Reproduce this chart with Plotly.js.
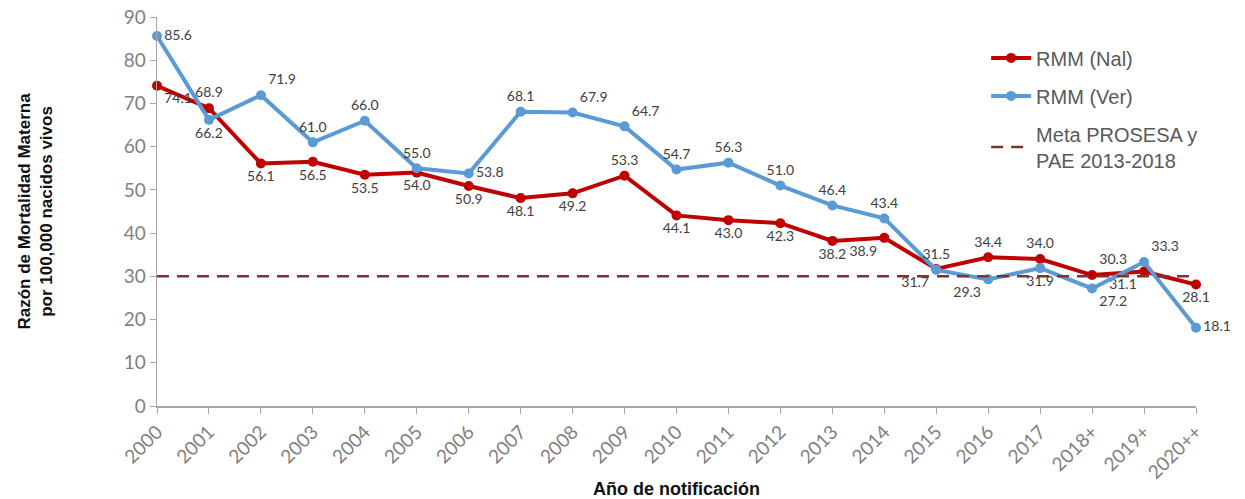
<!DOCTYPE html>
<html>
<head>
<meta charset="utf-8">
<script src="https://cdn.plot.ly/plotly-3.0.1.min.js"></script>
<style>html,body{margin:0;padding:0;background:#fff;}#chart{width:1245px;height:499px;}</style>
</head>
<body>
<div id="chart"></div>
<script>
const years = ["2000","2001","2002","2003","2004","2005","2006","2007","2008","2009","2010","2011","2012","2013","2014","2015","2016","2017","2018+","2019+","2020++"];
const rmmNal = [74.1,68.9,56.1,56.5,53.5,54.0,50.9,48.1,49.2,53.3,44.1,43.0,42.3,38.2,38.9,31.7,34.4,34.0,30.3,31.1,28.1];
const rmmVer = [85.6,66.2,71.9,61.0,66.0,55.0,53.8,68.1,67.9,64.7,54.7,56.3,51.0,46.4,43.4,31.5,29.3,31.9,27.2,33.3,18.1];
const meta = [30,30,30,30,30,30,30,30,30,30,30,30,30,30,30,30,30,30,30,30,30];

const nalPos = ["bottom right","top center","bottom center","bottom center","bottom center","bottom center","bottom center","bottom center","bottom center","top center","bottom center","bottom center","bottom center","bottom center","bottom left","bottom left","top center","top center","top right","bottom left","bottom center"];
const verPos = ["middle right","bottom center","top right","top center","top center","top center","middle right","top center","top right","top right","top center","top center","top center","top center","top center","top center","bottom left","bottom center","bottom right","top right","middle right"];

const labelFont = {family:"Lato, 'Open Sans', sans-serif", size:14, color:"#404040"};

const traces = [
  {x:years, y:rmmNal, name:"RMM (Nal)", legendgroup:"a", type:"scatter", mode:"lines+markers+text",
   line:{color:"#C00000", width:4}, marker:{color:"#C00000", size:10},
   text:rmmNal.map(v=>v.toFixed(1)), textposition:nalPos, textfont:labelFont, cliponaxis:false},
  {x:years, y:rmmVer, name:"RMM (Ver)", legendgroup:"b", type:"scatter", mode:"lines+markers+text",
   line:{color:"#5B9BD5", width:4}, marker:{color:"#5B9BD5", size:10},
   text:rmmVer.map(v=>v.toFixed(1)), textposition:verPos, textfont:labelFont, cliponaxis:false},
  {x:years, y:meta, name:"Meta PROSESA y<br>PAE 2013-2018", legendgroup:"c", type:"scatter", mode:"lines",
   line:{color:"#7B3434", width:2.5, dash:"12px,8px"}, hoverinfo:"skip"}
];

const tickFont = {family:"Lato, 'Open Sans', sans-serif", size:19, color:"#808080"};

const layout = {
  width:1245, height:499,
  margin:{l:157, r:49, t:17, b:93},
  paper_bgcolor:"#fff", plot_bgcolor:"#fff",
  showlegend:true,
  legend:{x:0.798, y:0.945, xanchor:"left", yanchor:"top", bgcolor:"rgba(0,0,0,0)",
          font:{family:"'Liberation Sans', Arial, sans-serif", size:20, color:"#595959"},
          tracegroupgap:9, itemwidth:40},
  xaxis:{type:"category", range:[0,20], showgrid:false, zeroline:false,
         showline:true, linecolor:"#A6A6A6", linewidth:1.5,
         ticks:"outside", ticklen:6, tickcolor:"#A6A6A6", tickangle:-45,
         tickfont:tickFont, automargin:false,
         title:{text:"Año de notificación", standoff:6,
                font:{family:"'Liberation Sans', Arial, sans-serif", size:18, color:"#111", weight:"bold"}}},
  yaxis:{range:[0,90], dtick:10, showgrid:false, zeroline:false,
         showline:true, linecolor:"#A6A6A6", linewidth:1.5,
         ticks:"outside", ticklen:6, tickcolor:"#A6A6A6",
         tickfont:tickFont, automargin:false,
         title:{text:"Razón de Mortalidad Materna<br>por 100,000 nacidos vivos", standoff:66,
                font:{family:"'Liberation Sans', Arial, sans-serif", size:17, color:"#111", weight:"bold"}}}
};

Plotly.newPlot("chart", traces, layout, {displayModeBar:false, staticPlot:true});
</script>
</body>
</html>
